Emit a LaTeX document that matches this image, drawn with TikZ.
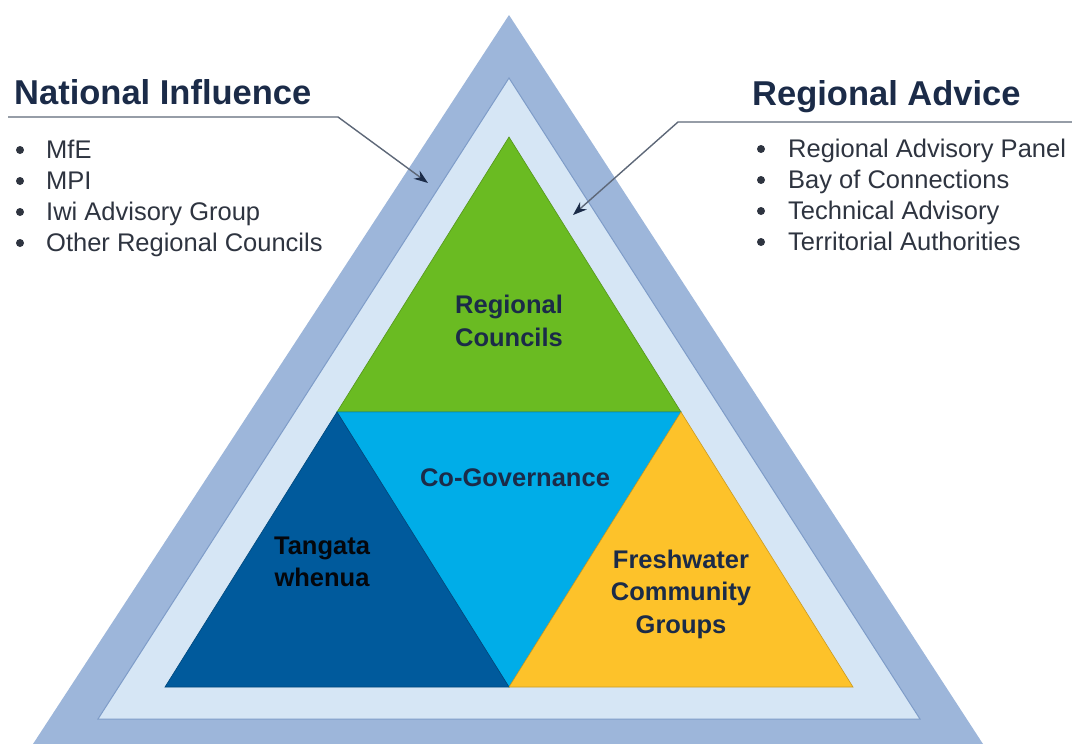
\documentclass[tikz,border=0pt]{standalone}
\usepackage{fontspec}
\setmainfont{Liberation Sans}
\usetikzlibrary{arrows.meta}
\definecolor{outerc}{HTML}{9DB6DA}
\definecolor{lightc}{HTML}{D6E6F5}
\definecolor{lightedge}{HTML}{7E9CC8}
\definecolor{greenc}{HTML}{6ABB22}
\definecolor{cyanc}{HTML}{00ADE8}
\definecolor{darkc}{HTML}{005A9C}
\definecolor{yellowc}{HTML}{FDC22A}
\definecolor{txtc}{HTML}{1B2B48}
\definecolor{bodyc}{HTML}{2E3440}
\definecolor{linec}{HTML}{5E6878}
\tikzset{
  title/.style={anchor=base west, inner sep=0pt, text=txtc, font=\fontsize{34.5}{40}\selectfont\bfseries},
  item/.style={anchor=base west, inner sep=0pt, text=bodyc, font=\fontsize{25.5}{30}\selectfont},
  dot/.style={circle, fill=bodyc, inner sep=0pt, minimum size=8pt},
  lab/.style={align=center, inner sep=0pt, text=txtc, font=\fontsize{25.5}{32.5}\selectfont\bfseries},
  leader/.style={draw=linec, line width=1.4pt, -{Stealth[length=14pt,width=10pt,color=txtc]}},
  piece/.style={draw=#1!80!black, line width=0.6pt, fill=#1}
}
\begin{document}
\begin{tikzpicture}[x=1pt,y=-1pt]
\useasboundingbox (0,0) rectangle (1072,744);
% outer and middle triangles
\fill[outerc] (509,15) -- (983,744) -- (33,744) -- cycle;
\draw[fill=lightc, draw=lightedge, line width=1pt] (509,78) -- (920,719) -- (98,719) -- cycle;
% inner pieces
\coordinate (A) at (509,137);
\coordinate (L) at (165,687);
\coordinate (R) at (853,687);
\coordinate (ML) at (337,412);
\coordinate (MR) at (681,412);
\coordinate (MB) at (509,687);
\path[piece=greenc] (A) -- (MR) -- (ML) -- cycle;
\path[piece=cyanc] (ML) -- (MR) -- (MB) -- cycle;
\path[piece=darkc] (ML) -- (MB) -- (L) -- cycle;
\path[piece=yellowc] (MR) -- (R) -- (MB) -- cycle;
% labels in triangle
\node[lab] (rc) at (509,321) {Regional\\Councils};
\node[lab] (cg) at (515,478) {Co-Governance};
\node[lab, text=black!85!txtc] (tw) at (322,562) {Tangata\\whenua};
\node[lab] (fw) at (681,594) {Freshwater\\Community\\Groups};
% left block
\node[title] (ni) at (14,104) {National Influence};
\coordinate (nl0) at (8,117);
\coordinate (nl1) at (338,117);
\coordinate (nlt) at (428,183);
\draw[leader] (nl0) -- (nl1) -- (nlt);
\foreach \t [count=\i] in {MfE,MPI,Iwi Advisory Group,Other Regional Councils}{
  \node[dot] (ldot\i) at (20,{150+31*(\i-1)}) {};
  \node[item] (litem\i) at (46,{158+31*(\i-1)}) {\t};
}
% right block
\node[title] (ra) at (752,105) {Regional Advice};
\coordinate (rl0) at (1072,122);
\coordinate (rl1) at (678,122);
\coordinate (rlt) at (573,215);
\draw[leader] (rl0) -- (rl1) -- (rlt);
\foreach \t [count=\i] in {Regional Advisory Panel,Bay of Connections,Technical Advisory,Territorial Authorities}{
  \node[dot] (rdot\i) at (761,{149+31*(\i-1)}) {};
  \node[item] (ritem\i) at (788,{157+31*(\i-1)}) {\t};
}
\end{tikzpicture}
\end{document}
